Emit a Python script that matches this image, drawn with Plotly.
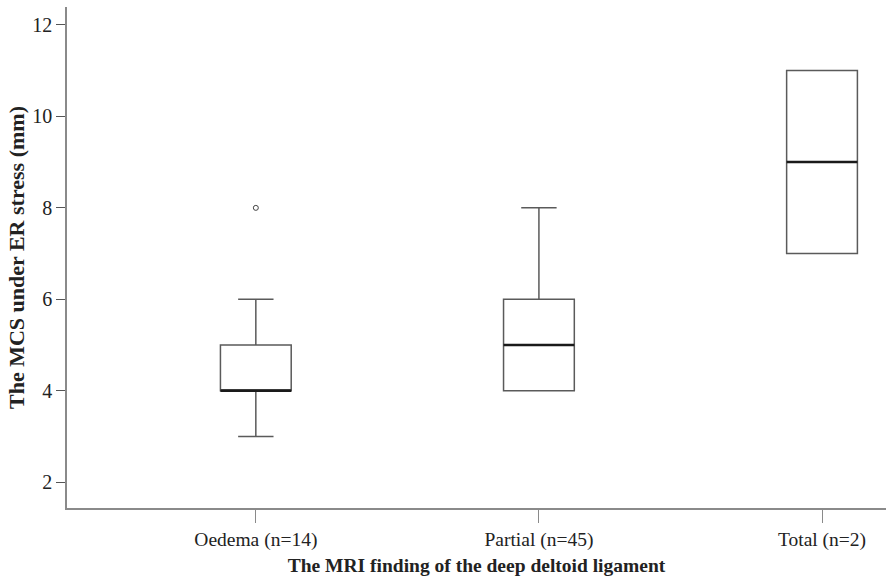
import plotly.graph_objects as go

categories = ["Oedema (n=14)", "Partial (n=45)", "Total (n=2)"]
lower_fence = [3, 4, 7]
q1 = [4, 4, 7]
median = [4, 5, 9]
q3 = [5, 6, 11]
upper_fence = [6, 8, 11]
outlier_cat = ["Oedema (n=14)"]
outlier_val = [8]
y_ticks = [2, 4, 6, 8, 10, 12]

font_family = "Liberation Serif, Times New Roman, serif"

fig = go.Figure()
fig.add_trace(go.Box(
    x=categories, q1=q1, median=median, q3=q3,
    lowerfence=lower_fence, upperfence=upper_fence,
    width=0.25, whiskerwidth=0.5,
    line=dict(color="#5a5a5a", width=1.5),
    fillcolor="white", boxpoints=False, hoverinfo="skip", showlegend=False,
))
fig.add_trace(go.Box(
    x=categories, q1=median, median=median, q3=median,
    lowerfence=median, upperfence=median,
    width=0.25, whiskerwidth=0.0,
    line=dict(color="#1a1a1a", width=2.5),
    fillcolor="rgba(0,0,0,0)", boxpoints=False, hoverinfo="skip", showlegend=False,
))
fig.add_trace(go.Scatter(
    x=outlier_cat, y=outlier_val, mode="markers",
    marker=dict(symbol="circle-open", size=5, color="#444444", line=dict(width=1)),
    hoverinfo="skip", showlegend=False,
))

fig.update_layout(
    width=886, height=580,
    margin=dict(l=67, r=0, t=7, b=72),
    paper_bgcolor="white", plot_bgcolor="white",
    font=dict(family=font_family, size=19, color="#222222"),
    boxmode="overlay",
    xaxis=dict(
        type="category", range=[-0.667, 2.226], automargin=False,
        showgrid=False, zeroline=False,
        showline=True, linecolor="#8a8a8a", linewidth=1.5,
        ticks="outside", ticklen=13, tickcolor="#8a8a8a", tickwidth=1,
        tickfont=dict(family=font_family, size=19.5, color="#222222"),
        title=dict(text="<b>The MRI finding of the deep deltoid ligament</b>",
                   font=dict(family=font_family, size=19.5, color="#222222"), standoff=8),
    ),
    yaxis=dict(
        range=[1.44, 12.39], tickvals=y_ticks, automargin=False,
        showgrid=False, zeroline=False,
        showline=True, linecolor="#8a8a8a", linewidth=1.5,
        ticks="outside", ticklen=9, tickcolor="#555555", tickwidth=1,
        tickfont=dict(family=font_family, size=20, color="#222222"),
        title=dict(text="<b>The MCS under ER stress (mm)</b>",
                   font=dict(family=font_family, size=22, color="#222222"), standoff=2),
    ),
)

fig.write_html("out.html", config={"displayModeBar": False},
               post_script="document.body.style.margin='0';document.body.style.padding='0';")
